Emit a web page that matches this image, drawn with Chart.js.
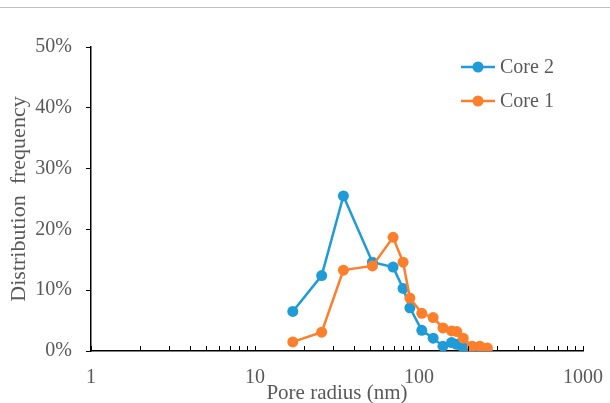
<!DOCTYPE html>
<html>
<head>
<meta charset="utf-8">
<script src="https://cdn.jsdelivr.net/npm/chart.js@4"></script>
<style>
  body { margin: 0; background: #fff; }
  #wrap { position: relative; width: 610px; height: 403px; }
  #topline { position: absolute; left: 0; top: 7px; width: 610px; height: 0; border-top: 1px solid #bfbfbf; }
</style>
</head>
<body>
<div id="wrap">
  <div id="topline"></div>
  <canvas id="chart" width="610" height="403"></canvas>
</div>
<script>
// pore radius (nm), shared by both cores
const poreRadius = [17, 25.5, 34.6, 52, 69.5, 80, 88, 104, 122, 140, 158, 170, 186, 211, 235, 261];
// distribution frequency (%)
const core2 = [6.5, 12.4, 25.5, 14.6, 13.8, 10.3, 7.1, 3.4, 2.1, 0.8, 1.4, 1.1, 0.6, 0.3, 0.05, 0];
const core1 = [1.5, 3.1, 13.3, 14.0, 18.7, 14.6, 8.7, 6.2, 5.5, 3.8, 3.3, 3.2, 2.1, 0.8, 0.8, 0.5];
const xTickLabels = [1, 10, 100, 1000];
const yTickMax = 50;

const blue = '#1f9bd7';
const orange = '#fd7f2c';
const fontFamily = '"Liberation Serif", "Times New Roman", serif';

function toPoints(values) {
    let pts = [];
    for (let i = 0; i < values.length; i++) {
        pts.push({ x: poreRadius[i], y: values[i] });
    }
    return pts;
}

// small inward ticks on the log axis + legend box at top right
const extras = {
    id: 'extras',
    afterDraw(chart) {
        const ctx = chart.ctx;
        const xs = chart.scales.x;
        const bottom = chart.chartArea.bottom;
        ctx.save();
        ctx.strokeStyle = '#000';
        ctx.lineWidth = 1;
        ctx.beginPath();
        for (let d = 1; d < 1000; d *= 10) {
            for (let k = 1; k < 10; k++) {
                const px = Math.round(xs.getPixelForValue(d * k)) + 0.5;
                ctx.moveTo(px, bottom);
                ctx.lineTo(px, bottom - 5);
            }
        }
        const pEnd = Math.round(xs.getPixelForValue(1000)) + 0.5;
        ctx.moveTo(pEnd, bottom);
        ctx.lineTo(pEnd, bottom - 5);
        ctx.stroke();

        // legend
        const items = [chart.data.datasets[0], chart.data.datasets[1]];
        ctx.font = '20px ' + fontFamily;
        ctx.textBaseline = 'middle';
        ctx.textAlign = 'left';
        for (let i = 0; i < items.length; i++) {
            const y = 67 + i * 34;
            ctx.strokeStyle = items[i].borderColor;
            ctx.lineWidth = 2.5;
            ctx.beginPath();
            ctx.moveTo(461, y);
            ctx.lineTo(495, y);
            ctx.stroke();
            ctx.fillStyle = items[i].backgroundColor;
            ctx.beginPath();
            ctx.arc(478, y, 5.5, 0, Math.PI * 2);
            ctx.fill();
            ctx.fillStyle = '#595959';
            ctx.fillText(items[i].label, 500, y + 1);
        }
        ctx.restore();
    }
};

new Chart(document.getElementById('chart'), {
    type: 'line',
    data: {
        datasets: [{
            label: 'Core 2',
            data: toPoints(core2),
            borderColor: blue,
            backgroundColor: blue,
            borderWidth: 2.5,
            pointRadius: 5.5,
            pointBorderWidth: 0,
            order: 1
        }, {
            label: 'Core 1',
            data: toPoints(core1),
            borderColor: orange,
            backgroundColor: orange,
            borderWidth: 2.5,
            pointRadius: 5.5,
            pointBorderWidth: 0,
            order: 0
        }]
    },
    options: {
        responsive: false,
        animation: false,
        layout: { padding: { left: 0, right: 27, top: 47, bottom: 0 } },
        plugins: {
            legend: { display: false },
            tooltip: { enabled: false }
        },
        scales: {
            x: {
                type: 'logarithmic',
                min: 1,
                max: 1000,
                afterBuildTicks: (scale) => {
                    scale.ticks = xTickLabels.map(v => ({ value: v }));
                },
                afterFit: (scale) => { scale.height = 52; },
                grid: { display: false },
                border: { display: true, color: '#000', width: 1.5 },
                ticks: {
                    autoSkip: false,
                    maxRotation: 0,
                    padding: 7,
                    color: '#595959',
                    font: { family: fontFamily, size: 20 },
                    callback: (v) => String(v)
                },
                title: {
                    display: true,
                    text: 'Pore radius (nm)',
                    color: '#595959',
                    font: { family: fontFamily, size: 21 },
                    padding: { top: 0, bottom: -3 }
                }
            },
            y: {
                min: 0,
                max: yTickMax,
                afterFit: (scale) => { scale.width = 91; },
                grid: { drawOnChartArea: false, tickLength: 5, tickColor: '#000', tickWidth: 1 },
                border: { display: true, color: '#000', width: 1.5 },
                ticks: {
                    stepSize: 10,
                    padding: 14,
                    color: '#595959',
                    font: { family: fontFamily, size: 20 },
                    callback: (v) => v + '%'
                },
                title: {
                    display: true,
                    text: 'Distribution  frequency',
                    color: '#595959',
                    font: { family: fontFamily, size: 22 },
                    padding: { top: 6, bottom: 0 }
                }
            }
        }
    },
    plugins: [extras]
});
</script>
</body>
</html>
